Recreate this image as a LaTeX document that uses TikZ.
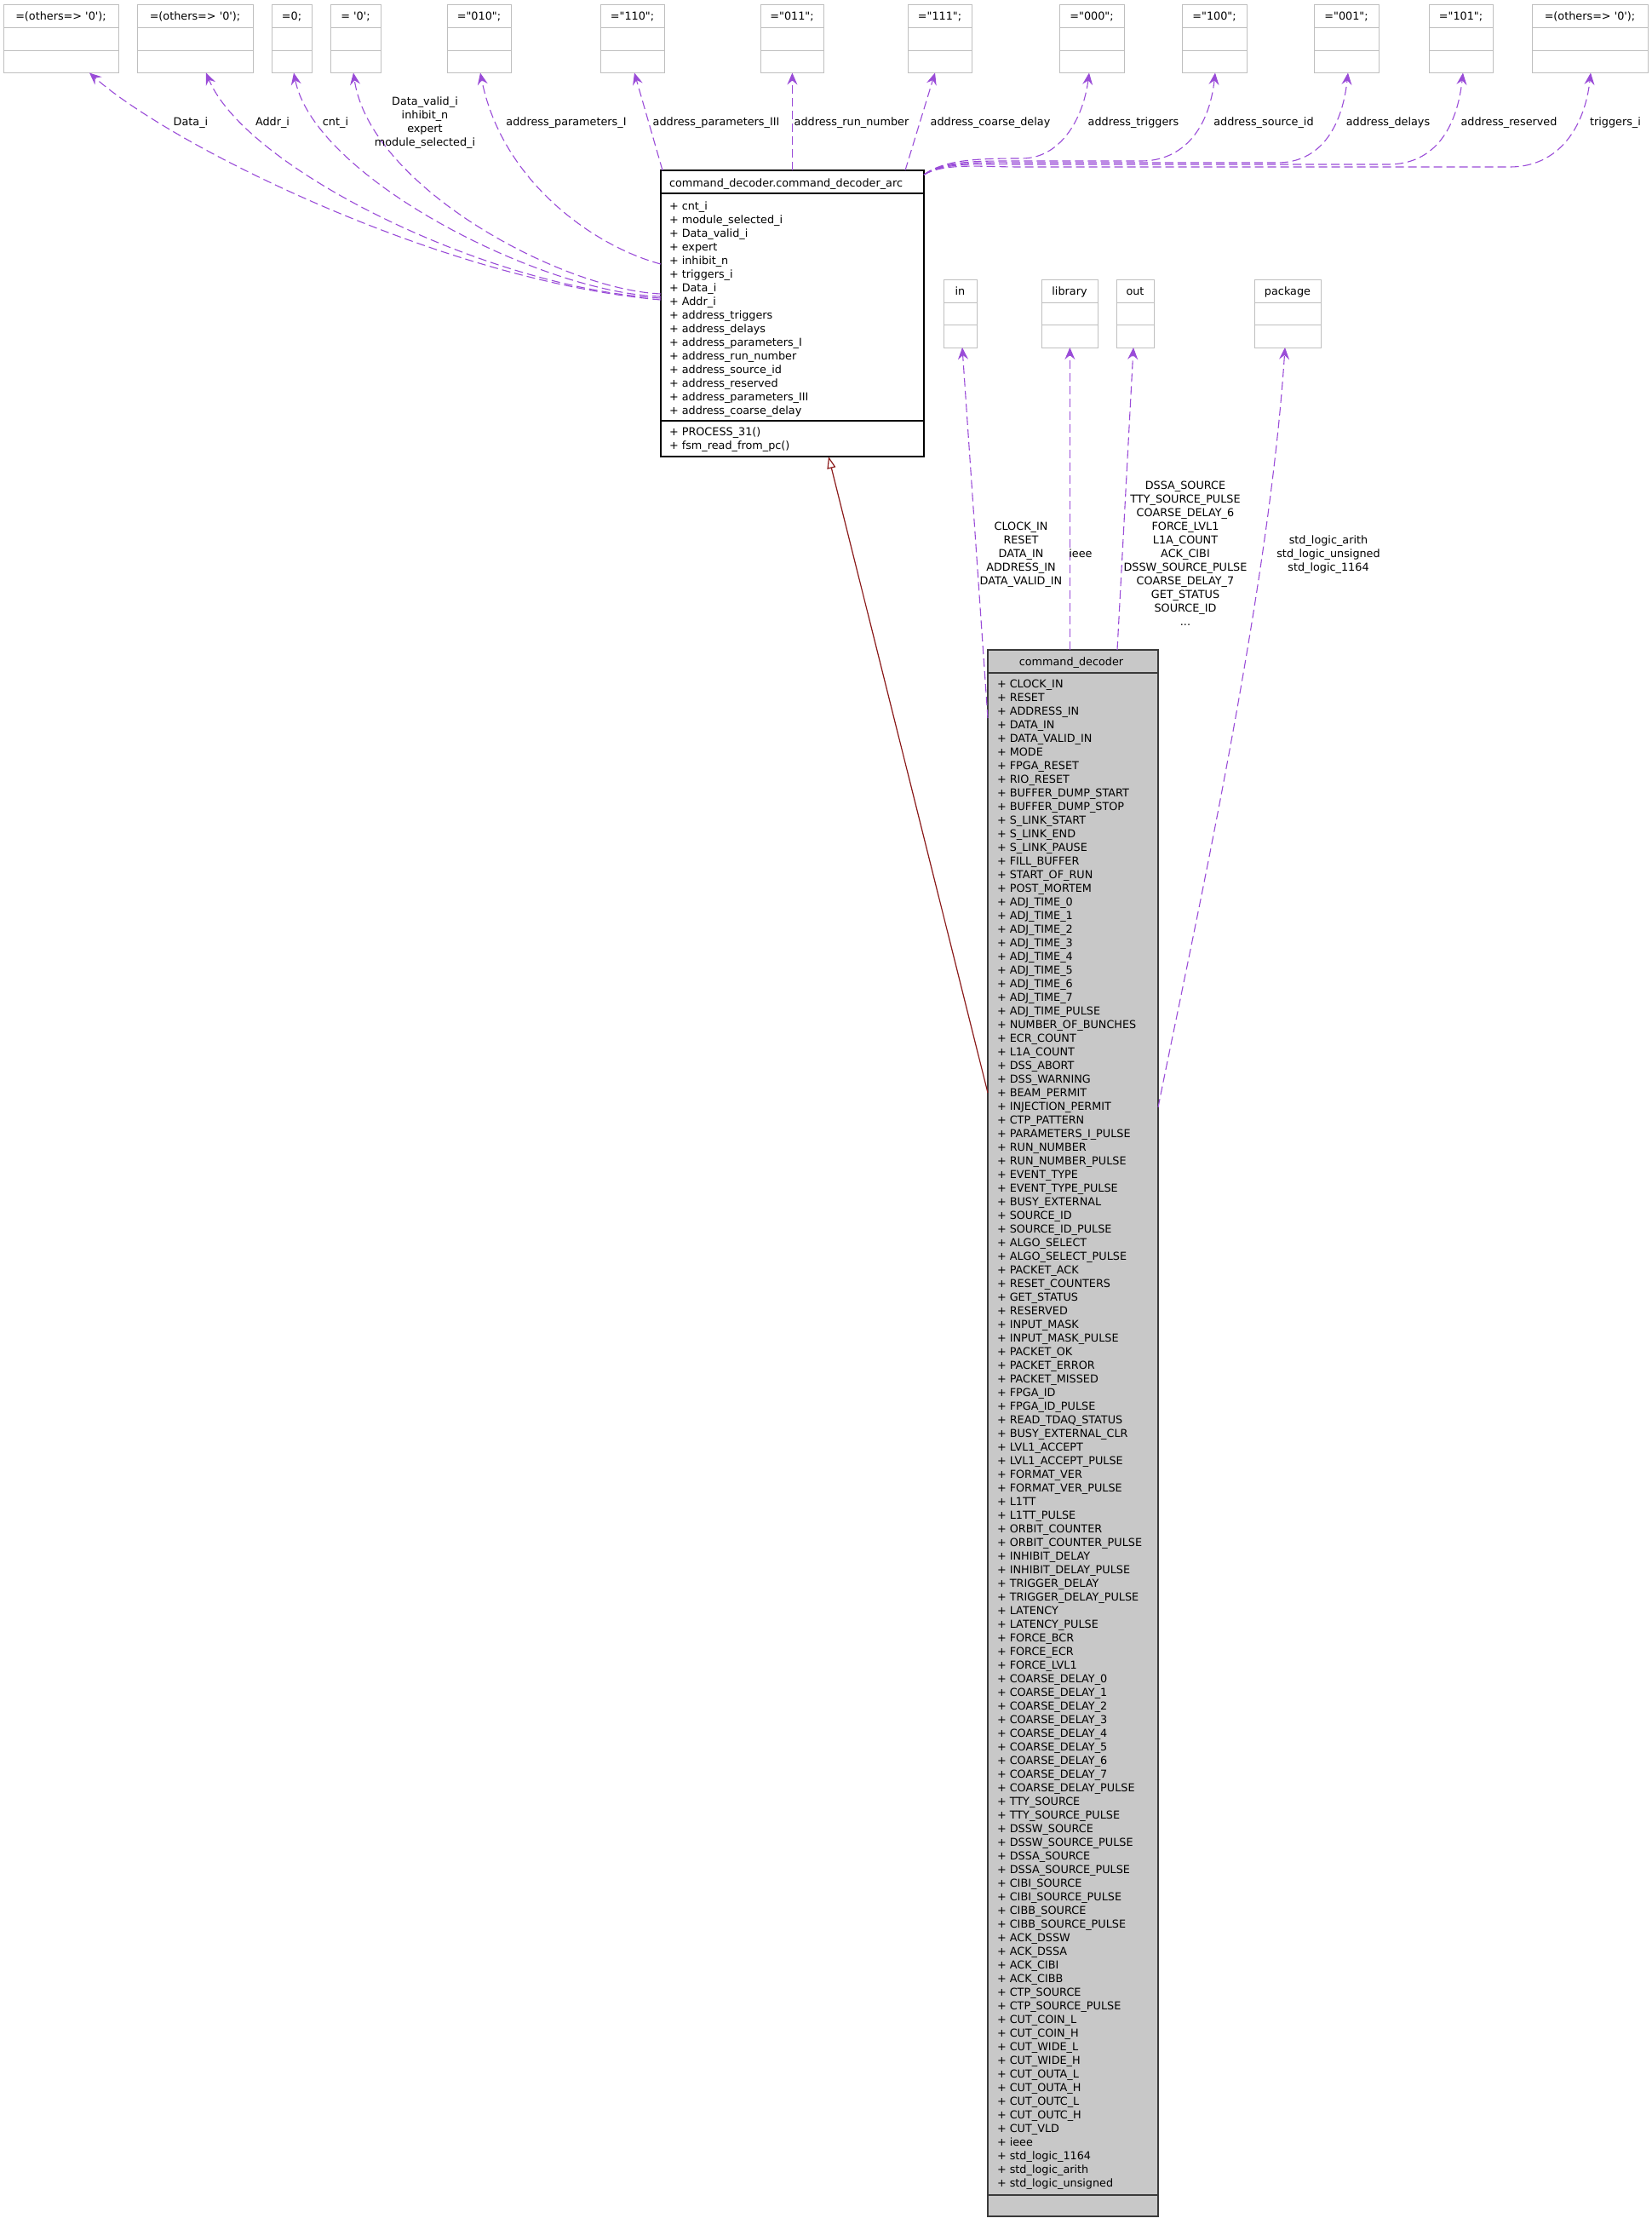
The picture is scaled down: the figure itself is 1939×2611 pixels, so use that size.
\documentclass[tikz,border=0pt]{standalone}
\usepackage{fontspec}
\newfontfamily\dv{DejaVu Sans}
\usetikzlibrary{arrows.meta}
\definecolor{purp}{HTML}{9A4CD8}
\definecolor{inh}{HTML}{8B1A1A}
\definecolor{sgray}{HTML}{BFBFBF}
\definecolor{mfill}{HTML}{C8C8C8}
\definecolor{mdraw}{HTML}{3A3A3A}
\tikzset{
  sbox/.style={draw=sgray, fill=white, line width=1pt, rectangle},
  sgrid/.style={draw=sgray, line width=1pt},
  abox/.style={draw=black, fill=white, line width=1.3pt, rectangle},
  agrid/.style={draw=black, line width=1.3pt},
  mbox/.style={draw=mdraw, fill=mfill, line width=1.7pt, rectangle},
  mgrid/.style={draw=mdraw, line width=1.7pt},
  useedge/.style={draw=purp, line width=1.1pt, dash pattern=on 10pt off 5pt, -{Stealth[length=14pt,width=12pt,inset=5pt]}},
  inhedge/.style={draw=inh, line width=1.2pt, -{Triangle[open,length=14pt,width=10pt]}},
  lab/.style={anchor=base}
}
\newcommand\smallbox[6]{%
  \node[sbox, minimum width={(#3-(#2))*1pt}, minimum height={(#5-(#4))*1pt}] (#1) at ({(#2+#3)/2},{(#4+#5)/2}) {};
  \node[anchor=base] (#1t) at ({(#2+#3)/2},{#4+18}) {#6};
  \draw[sgrid] ([yshift=-27pt]#1.north west) -- ([yshift=-27pt]#1.north east);
  \draw[sgrid] ([yshift=-53.5pt]#1.north west) -- ([yshift=-53.5pt]#1.north east);}
\begin{document}
\begin{tikzpicture}[x=1pt,y=-1pt, font={\dv\fontsize{12.8}{16}\selectfont}, every node/.style={inner sep=0pt, outer sep=0pt}]
\fill[white] (0,0) rectangle (1939,2611);
\useasboundingbox (0,0) rectangle (1939,2611);

% top value boxes
\smallbox{b1}{4}{139}{5.5}{85.5}{=(others=> '0');}
\smallbox{b2}{161}{297}{5.5}{85.5}{=(others=> '0');}
\smallbox{b3}{319}{366}{5.5}{85.5}{=0;}
\smallbox{b4}{388}{447}{5.5}{85.5}{= '0';}
\smallbox{b5}{525}{600}{5.5}{85.5}{="010";}
\smallbox{b6}{705}{780}{5.5}{85.5}{="110";}
\smallbox{b7}{893}{967}{5.5}{85.5}{="011";}
\smallbox{b8}{1066}{1141}{5.5}{85.5}{="111";}
\smallbox{b9}{1244}{1320}{5.5}{85.5}{="000";}
\smallbox{b10}{1388}{1464}{5.5}{85.5}{="100";}
\smallbox{b11}{1543}{1619}{5.5}{85.5}{="001";}
\smallbox{b12}{1678}{1753}{5.5}{85.5}{="101";}
\smallbox{b13}{1799}{1935}{5.5}{85.5}{=(others=> '0');}

% in / library / out / package
\smallbox{pin}{1108}{1147}{328}{408}{in}
\smallbox{plib}{1223}{1289}{328}{408}{library}
\smallbox{pout}{1311}{1355}{328}{408}{out}
\smallbox{ppkg}{1473}{1551}{328}{408}{package}

% architecture box
\node[abox, minimum width=309pt, minimum height=336pt] (arc) at (930.5,368) {};
\draw[agrid] ([yshift=-27pt]arc.north west) -- ([yshift=-27pt]arc.north east);
\draw[agrid] ([yshift=-294pt]arc.north west) -- ([yshift=-294pt]arc.north east);
\node[anchor=base west] (arct) at (786,219) {command\_decoder.command\_decoder\_arc};
\node[anchor=base west] (arca) at (786,246) {\begin{tabular}[t]{@{}l@{}}
+ cnt\_i\\
+ module\_selected\_i\\
+ Data\_valid\_i\\
+ expert\\
+ inhibit\_n\\
+ triggers\_i\\
+ Data\_i\\
+ Addr\_i\\
+ address\_triggers\\
+ address\_delays\\
+ address\_parameters\_I\\
+ address\_run\_number\\
+ address\_source\_id\\
+ address\_reserved\\
+ address\_parameters\_III\\
+ address\_coarse\_delay
\end{tabular}};
\node[anchor=base west] (arcm) at (786,511) {\begin{tabular}[t]{@{}l@{}}
+ PROCESS\_31()\\
+ fsm\_read\_from\_pc()
\end{tabular}};

% main entity box
\node[mbox, minimum width=200pt, minimum height=1839pt] (main) at (1260,1682.5) {};
\draw[mgrid] ([yshift=-27pt]main.north west) -- ([yshift=-27pt]main.north east);
\draw[mgrid] ([yshift=-1814pt]main.north west) -- ([yshift=-1814pt]main.north east);
\node[anchor=base] (maint) at (1258,781) {command\_decoder};
\node[anchor=base west] (maina) at (1171,807) {\begin{tabular}[t]{@{}l@{}}
+ CLOCK\_IN\\
+ RESET\\
+ ADDRESS\_IN\\
+ DATA\_IN\\
+ DATA\_VALID\_IN\\
+ MODE\\
+ FPGA\_RESET\\
+ RIO\_RESET\\
+ BUFFER\_DUMP\_START\\
+ BUFFER\_DUMP\_STOP\\
+ S\_LINK\_START\\
+ S\_LINK\_END\\
+ S\_LINK\_PAUSE\\
+ FILL\_BUFFER\\
+ START\_OF\_RUN\\
+ POST\_MORTEM\\
+ ADJ\_TIME\_0\\
+ ADJ\_TIME\_1\\
+ ADJ\_TIME\_2\\
+ ADJ\_TIME\_3\\
+ ADJ\_TIME\_4\\
+ ADJ\_TIME\_5\\
+ ADJ\_TIME\_6\\
+ ADJ\_TIME\_7\\
+ ADJ\_TIME\_PULSE\\
+ NUMBER\_OF\_BUNCHES\\
+ ECR\_COUNT\\
+ L1A\_COUNT\\
+ DSS\_ABORT\\
+ DSS\_WARNING\\
+ BEAM\_PERMIT\\
+ INJECTION\_PERMIT\\
+ CTP\_PATTERN\\
+ PARAMETERS\_I\_PULSE\\
+ RUN\_NUMBER\\
+ RUN\_NUMBER\_PULSE\\
+ EVENT\_TYPE\\
+ EVENT\_TYPE\_PULSE\\
+ BUSY\_EXTERNAL\\
+ SOURCE\_ID\\
+ SOURCE\_ID\_PULSE\\
+ ALGO\_SELECT\\
+ ALGO\_SELECT\_PULSE\\
+ PACKET\_ACK\\
+ RESET\_COUNTERS\\
+ GET\_STATUS\\
+ RESERVED\\
+ INPUT\_MASK\\
+ INPUT\_MASK\_PULSE\\
+ PACKET\_OK\\
+ PACKET\_ERROR\\
+ PACKET\_MISSED\\
+ FPGA\_ID\\
+ FPGA\_ID\_PULSE\\
+ READ\_TDAQ\_STATUS\\
+ BUSY\_EXTERNAL\_CLR\\
+ LVL1\_ACCEPT\\
+ LVL1\_ACCEPT\_PULSE\\
+ FORMAT\_VER\\
+ FORMAT\_VER\_PULSE\\
+ L1TT\\
+ L1TT\_PULSE\\
+ ORBIT\_COUNTER\\
+ ORBIT\_COUNTER\_PULSE\\
+ INHIBIT\_DELAY\\
+ INHIBIT\_DELAY\_PULSE\\
+ TRIGGER\_DELAY\\
+ TRIGGER\_DELAY\_PULSE\\
+ LATENCY\\
+ LATENCY\_PULSE\\
+ FORCE\_BCR\\
+ FORCE\_ECR\\
+ FORCE\_LVL1\\
+ COARSE\_DELAY\_0\\
+ COARSE\_DELAY\_1\\
+ COARSE\_DELAY\_2\\
+ COARSE\_DELAY\_3\\
+ COARSE\_DELAY\_4\\
+ COARSE\_DELAY\_5\\
+ COARSE\_DELAY\_6\\
+ COARSE\_DELAY\_7\\
+ COARSE\_DELAY\_PULSE\\
+ TTY\_SOURCE\\
+ TTY\_SOURCE\_PULSE\\
+ DSSW\_SOURCE\\
+ DSSW\_SOURCE\_PULSE\\
+ DSSA\_SOURCE\\
+ DSSA\_SOURCE\_PULSE\\
+ CIBI\_SOURCE\\
+ CIBI\_SOURCE\_PULSE\\
+ CIBB\_SOURCE\\
+ CIBB\_SOURCE\_PULSE\\
+ ACK\_DSSW\\
+ ACK\_DSSA\\
+ ACK\_CIBI\\
+ ACK\_CIBB\\
+ CTP\_SOURCE\\
+ CTP\_SOURCE\_PULSE\\
+ CUT\_COIN\_L\\
+ CUT\_COIN\_H\\
+ CUT\_WIDE\_L\\
+ CUT\_WIDE\_H\\
+ CUT\_OUTA\_L\\
+ CUT\_OUTA\_H\\
+ CUT\_OUTC\_L\\
+ CUT\_OUTC\_H\\
+ CUT\_VLD\\
+ ieee\\
+ std\_logic\_1164\\
+ std\_logic\_arith\\
+ std\_logic\_unsigned
\end{tabular}};

% usage edges: architecture -> value boxes
\draw[useedge] ([yshift=-152pt]arc.north west) .. controls (520,330) and (200,170) .. ([xshift=33.5pt]b1.south);
\draw[useedge] ([yshift=-150pt]arc.north west) .. controls (580,340) and (290,200) .. ([xshift=13pt]b2.south);
\draw[useedge] ([yshift=-148pt]arc.north west) .. controls (640,345) and (370,210) .. ([xshift=2.5pt]b3.south);
\draw[useedge] ([yshift=-145pt]arc.north west) .. controls (660,340) and (435,220) .. ([xshift=-2.5pt]b4.south);
\draw[useedge] ([yshift=-110pt]arc.north west) .. controls (700,290) and (590,215) .. ([xshift=1.5pt]b5.south);
\draw[useedge] ([xshift=2pt]arc.north west) -- ([xshift=2.5pt]b6.south);
\draw[useedge] ([xshift=0.4pt]arc.north -| b7.south) -- ([xshift=0.4pt]b7.south);
\draw[useedge] ([xshift=287pt]arc.north west) -- ([xshift=-5.5pt]b8.south);
\draw[useedge] ([yshift=-5pt]arc.north east) .. controls (1110,187) and (1150,186) .. (1200,186) .. controls (1245,186) and (1272,140) .. ([xshift=-3pt]b9.south);
\draw[useedge] ([yshift=-5pt]arc.north east) .. controls (1110,188) and (1150,189) .. (1200,189) -- (1340,189) .. controls (1390,189) and (1420,150) .. ([xshift=1pt]b10.south);
\draw[useedge] ([yshift=-5pt]arc.north east) .. controls (1110,189) and (1150,191) .. (1200,191) -- (1500,191) .. controls (1550,191) and (1576,150) .. ([xshift=2pt]b11.south);
\draw[useedge] ([yshift=-5pt]arc.north east) .. controls (1110,190) and (1150,193) .. (1200,193) -- (1630,193) .. controls (1685,193) and (1711,150) .. ([xshift=2.5pt]b12.south);
\draw[useedge] ([yshift=-5pt]arc.north east) .. controls (1110,191) and (1150,196) .. (1200,196) -- (1773,196) .. controls (1830,196) and (1861,150) .. ([xshift=1pt]b13.south);

% usage edges: entity -> in/library/out/package
\draw[useedge] ([yshift=-80pt]main.north west) -- ([xshift=2.5pt]pin.south);
\draw[useedge] ([xshift=0.4pt]main.north -| plib.south) -- ([xshift=0.4pt]plib.south);
\draw[useedge] ([xshift=52pt]main.north) -- ([xshift=-2pt]pout.south);
\draw[useedge] ([yshift=-537pt]main.north east) .. controls (1400,1100) and (1490,700) .. ([xshift=-3pt]ppkg.south);

% inheritance
\draw[inhedge] ([yshift=-520pt]main.north west) -- ([xshift=42.5pt]arc.south);

% edge labels
\node[lab] (l1) at (224,147) {Data\_i};
\node[lab] (l2) at (320,147) {Addr\_i};
\node[lab] (l3) at (394,147) {cnt\_i};
\node[lab] (l4) at (499,123) {\begin{tabular}[t]{@{}c@{}}Data\_valid\_i\\inhibit\_n\\expert\\module\_selected\_i\end{tabular}};
\node[lab] (l5) at (665,147) {address\_parameters\_I};
\node[lab] (l6) at (841,147) {address\_parameters\_III};
\node[lab] (l7) at (1000,147) {address\_run\_number};
\node[lab] (l8) at (1163,147) {address\_coarse\_delay};
\node[lab] (l9) at (1331,147) {address\_triggers};
\node[lab] (l10) at (1484,147) {address\_source\_id};
\node[lab] (l11) at (1630,147) {address\_delays};
\node[lab] (l12) at (1772,147) {address\_reserved};
\node[lab] (l13) at (1897,147) {triggers\_i};
\node[lab] (lin) at (1199,622) {\begin{tabular}[t]{@{}c@{}}CLOCK\_IN\\RESET\\DATA\_IN\\ADDRESS\_IN\\DATA\_VALID\_IN\end{tabular}};
\node[lab] (llib) at (1269,654) {ieee};
\node[lab] (lout) at (1392,574) {\begin{tabular}[t]{@{}c@{}}DSSA\_SOURCE\\TTY\_SOURCE\_PULSE\\COARSE\_DELAY\_6\\FORCE\_LVL1\\L1A\_COUNT\\ACK\_CIBI\\DSSW\_SOURCE\_PULSE\\COARSE\_DELAY\_7\\GET\_STATUS\\SOURCE\_ID\\...\end{tabular}};
\node[lab] (lpkg) at (1560,638) {\begin{tabular}[t]{@{}c@{}}std\_logic\_arith\\std\_logic\_unsigned\\std\_logic\_1164\end{tabular}};
\end{tikzpicture}
\end{document}
